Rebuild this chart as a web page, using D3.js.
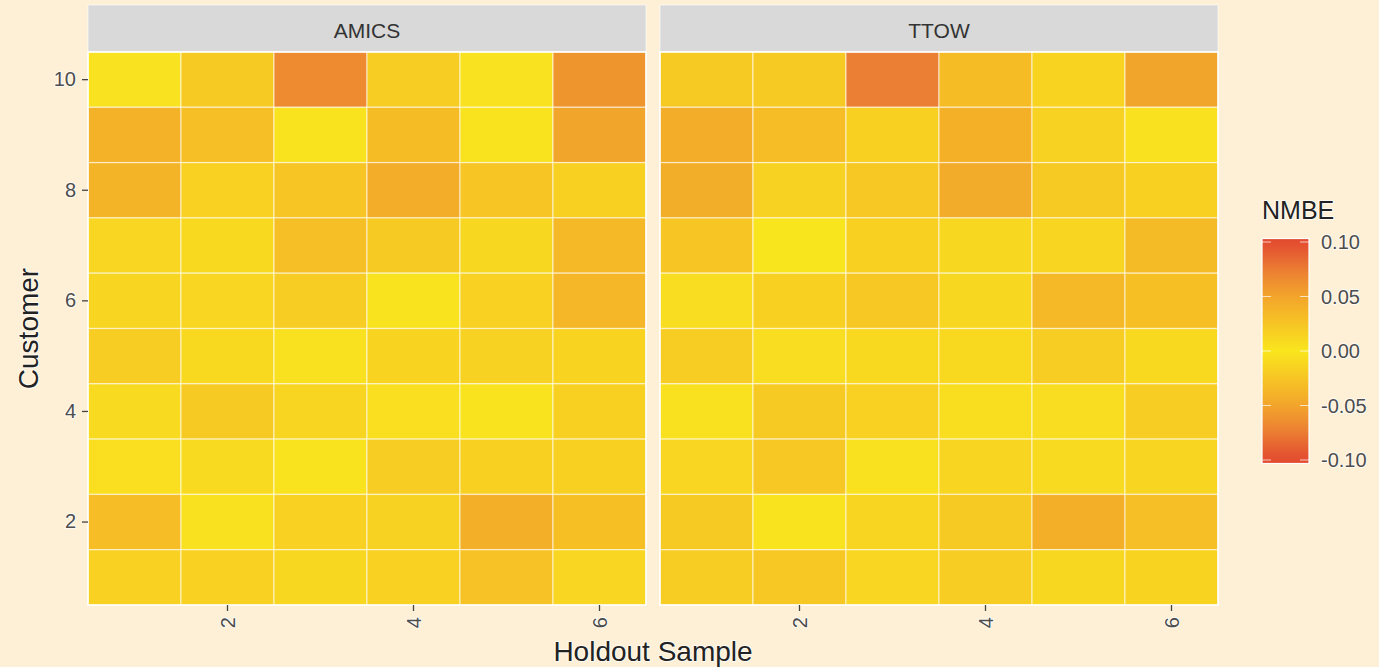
<!DOCTYPE html>
<html>
<head>
<meta charset="utf-8">
<script src="https://cdn.jsdelivr.net/npm/d3@7"></script>
<style>
  body { margin: 0; background: #fdf0d6; }
  svg { display: block; font-family: "Liberation Sans", Arial, sans-serif; }
  .halo { paint-order: stroke; stroke: #ffffff; stroke-opacity: 0.7; stroke-width: 2px; }
</style>
</head>
<body>
<div id="chart"></div>
<script>
(function(){
  var width = 1379;
  var height = 667;

  var samples = [1, 2, 3, 4, 5, 6];
  var customers = [10, 9, 8, 7, 6, 5, 4, 3, 2, 1];
  var xTicks = [2, 4, 6];
  var yTicks = [2, 4, 6, 8, 10];
  var legendTicks = [0.10, 0.05, 0.00, -0.05, -0.10];

  // NMBE per customer (rows 10..1), holdout samples 1..6
  var amics = [
    [0.003, 0.022, 0.066, 0.020, 0.003, 0.060],
    [0.040, 0.030, 0.002, 0.032, 0.002, 0.050],
    [0.038, 0.016, 0.024, 0.044, 0.025, 0.017],
    [0.012, 0.010, 0.030, 0.021, 0.011, 0.034],
    [0.013, 0.012, 0.020, 0.002, 0.016, 0.037],
    [0.020, 0.010, 0.004, 0.014, 0.015, 0.014],
    [0.008, 0.022, 0.013, 0.005, 0.002, 0.017],
    [0.005, 0.008, 0.002, 0.020, 0.017, 0.017],
    [0.031, 0.004, 0.016, 0.015, 0.042, 0.029],
    [0.016, 0.016, 0.011, 0.016, 0.027, 0.012]
  ];
  var ttow = [
    [0.022, 0.022, 0.074, 0.032, 0.014, 0.050],
    [0.044, 0.031, 0.017, 0.041, 0.015, 0.004],
    [0.043, 0.015, 0.023, 0.045, 0.022, 0.017],
    [0.024, 0.001, 0.017, 0.011, 0.013, 0.033],
    [0.007, 0.017, 0.023, 0.011, 0.034, 0.029],
    [0.019, 0.007, 0.010, 0.010, 0.019, 0.010],
    [0.004, 0.022, 0.016, 0.006, 0.007, 0.019],
    [0.012, 0.023, 0.004, 0.013, 0.008, 0.013],
    [0.021, 0.002, 0.013, 0.021, 0.042, 0.030],
    [0.019, 0.023, 0.012, 0.019, 0.011, 0.014]
  ];

  var panels = [
    { name: 'AMICS', values: amics, x0: 88, x1: 646 },
    { name: 'TTOW', values: ttow, x0: 660, x1: 1218 }
  ];

  var top = 52, bottom = 605, stripTop = 5;

  var color = d3.scaleLinear()
    .domain([-0.1, -0.075, -0.05, -0.025, 0, 0.025, 0.05, 0.075, 0.1])
    .range(['#e2492f', '#eb7d33', '#f2a52b', '#f7c524', '#f9e61e',
            '#f7c524', '#f2a52b', '#eb7d33', '#e2492f'])
    .clamp(true);

  var svg = d3.select('#chart').append('svg')
    .attr('width', width)
    .attr('height', height);

  svg.append('rect')
    .attr('width', width).attr('height', height)
    .attr('fill', '#fdf0d6');

  var y = d3.scaleBand().domain(customers).range([top, bottom]);

  panels.forEach(function(p, pi){
    var x = d3.scaleBand().domain(samples).range([p.x0, p.x1]);
    var g = svg.append('g');

    // strip
    g.append('rect')
      .attr('x', p.x0).attr('y', stripTop)
      .attr('width', p.x1 - p.x0).attr('height', top - stripTop)
      .attr('fill', '#d9d9d9')
      .attr('stroke', '#ffffff').attr('stroke-opacity', 0.6);
    g.append('text')
      .attr('x', (p.x0 + p.x1) / 2).attr('y', 38)
      .attr('text-anchor', 'middle')
      .attr('font-size', '21px')
      .attr('fill', '#333')
      .text(p.name);

    var cells = [];
    p.values.forEach(function(row, ri){
      row.forEach(function(v, ci){
        cells.push({ customer: customers[ri], sample: samples[ci], value: v });
      });
    });

    g.selectAll('rect.tile')
      .data(cells)
      .enter()
      .append('rect')
        .attr('class', 'tile')
        .attr('x', function(d){ return x(d.sample); })
        .attr('y', function(d){ return y(d.customer); })
        .attr('width', x.bandwidth())
        .attr('height', y.bandwidth())
        .attr('fill', function(d){ return color(d.value); })
        .attr('stroke', '#ffffff')
        .attr('stroke-opacity', 0.55)
        .attr('stroke-width', 1.3);

    // panel outline
    g.append('rect')
      .attr('x', p.x0).attr('y', top)
      .attr('width', p.x1 - p.x0).attr('height', bottom - top)
      .attr('fill', 'none')
      .attr('stroke', '#ffffff').attr('stroke-width', 1.5);

    // x axis (rotated labels)
    var xAxis = g.append('g')
      .attr('transform', 'translate(0,' + bottom + ')')
      .call(d3.axisBottom(x).tickValues(xTicks).tickSize(6).tickPadding(4));
    xAxis.select('.domain').remove();
    xAxis.selectAll('line').attr('stroke', '#444').attr('stroke-width', 1.3);
    xAxis.selectAll('text')
      .attr('class', 'halo')
      .attr('font-size', '20px')
      .attr('fill', '#4d4d4d')
      .attr('transform', 'rotate(-90)')
      .attr('text-anchor', 'end')
      .attr('dy', '0.35em')
      .attr('x', -12)
      .attr('y', 0);

    if (pi === 0) {
      var yAxis = g.append('g')
        .attr('transform', 'translate(' + p.x0 + ',0)')
        .call(d3.axisLeft(y).tickValues(yTicks).tickSize(6).tickPadding(6));
      yAxis.select('.domain').remove();
      yAxis.selectAll('line').attr('stroke', '#444').attr('stroke-width', 1.3);
      yAxis.selectAll('text')
        .attr('class', 'halo')
        .attr('font-size', '20px')
        .attr('fill', '#4d4d4d');
    }
  });

  // axis titles
  svg.append('text')
    .attr('class', 'halo')
    .attr('x', 653).attr('y', 661)
    .attr('text-anchor', 'middle')
    .attr('font-size', '28px')
    .attr('fill', '#222')
    .text('Holdout Sample');

  svg.append('text')
    .attr('class', 'halo')
    .attr('transform', 'translate(38,' + (top + bottom) / 2 + ') rotate(-90)')
    .attr('text-anchor', 'middle')
    .attr('font-size', '28px')
    .attr('fill', '#222')
    .text('Customer');

  // legend
  var lg = d3.scaleLinear().domain([-0.1, 0.1]).range([460, 242]);
  var barX = 1262, barW = 47;
  var barTop = lg(0.1032), barBottom = lg(-0.1032);

  var grad = svg.append('defs').append('linearGradient')
    .attr('id', 'nmbe').attr('x1', 0).attr('y1', 1).attr('x2', 0).attr('y2', 0);
  d3.range(0, 1.0001, 0.05).forEach(function(t){
    grad.append('stop')
      .attr('offset', t)
      .attr('stop-color', color(-0.1032 + t * 0.2064));
  });

  svg.append('text')
    .attr('class', 'halo')
    .attr('x', barX).attr('y', 219)
    .attr('font-size', '25px')
    .attr('fill', '#222')
    .text('NMBE');

  svg.append('rect')
    .attr('x', barX).attr('y', barTop)
    .attr('width', barW).attr('height', barBottom - barTop)
    .attr('fill', 'url(#nmbe)')
    .attr('stroke', '#ffffff').attr('stroke-width', 1.2);

  var lt = svg.append('g').selectAll('g')
    .data(legendTicks)
    .enter().append('g');
  lt.append('line')
    .attr('x1', barX).attr('x2', barX + 9)
    .attr('y1', function(d){ return lg(d); }).attr('y2', function(d){ return lg(d); })
    .attr('stroke', '#ffffff').attr('stroke-opacity', 0.7);
  lt.append('line')
    .attr('x1', barX + barW - 9).attr('x2', barX + barW)
    .attr('y1', function(d){ return lg(d); }).attr('y2', function(d){ return lg(d); })
    .attr('stroke', '#ffffff').attr('stroke-opacity', 0.7);
  lt.append('text')
    .attr('class', 'halo')
    .attr('x', 1321)
    .attr('y', function(d){ return lg(d); })
    .attr('dy', '0.35em')
    .attr('font-size', '20px')
    .attr('fill', '#4d4d4d')
    .text(function(d){ return d3.format('.2f')(d).replace('\u2212', '-'); });
})()
</script>
</body>
</html>
